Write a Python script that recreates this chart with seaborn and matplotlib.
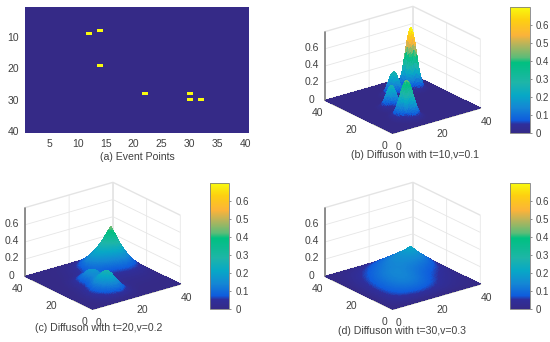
# %% Event points and diffusion surfaces
import numpy as np
import pandas as pd
import matplotlib
matplotlib.use("Agg")
import matplotlib.pyplot as plt
import seaborn as sns
from matplotlib.colors import LinearSegmentedColormap, Normalize
from matplotlib.cm import ScalarMappable

# event cells
event_x = [12, 14, 14, 22, 30, 30, 32]
event_y = [9, 8, 19, 28, 28, 30, 30]

# bumps: centre, then height, width and sharpness per panel
bump_x = [13, 14, 22, 31]
bump_y = [8.5, 19, 28, 29.5]
heights_b = [0.47, 0.27, 0.29, 0.78]
widths_b = [3.4, 2.8, 2.8, 2.9]
powers_b = [2.0, 2.0, 2.0, 2.0]
heights_c = [0.28, 0.16, 0.09, 0.49]
widths_c = [5.5, 5.0, 5.0, 6.0]
powers_c = [1.8, 1.8, 1.8, 1.15]
heights_d = [0.09, 0.06, 0.05, 0.21]
widths_d = [13.0, 12.0, 11.0, 8.0]
powers_d = [1.8, 1.8, 1.8, 1.0]
edge_fade = 3  # surfaces drop to zero at the border, over about this many cells

ticks_xy = [0, 20, 40]
ticks_z = [0, 0.2, 0.4, 0.6]
ticks_cbar = [0, 0.1, 0.2, 0.3, 0.4, 0.5, 0.6]

captions = ["(a) Event Points", "(b) Diffuson with t=10,v=0.1",
            "(c) Diffuson with t=20,v=0.2", "(d) Diffuson with t=30,v=0.3"]

parula = LinearSegmentedColormap.from_list("parula", [
    (0.00, "#352a87"), (0.07, "#2f2f9c"), (0.10, "#0f5cdd"), (0.20, "#1487d4"),
    (0.30, "#07a8c6"), (0.40, "#1eb5a8"), (0.56, "#00c080"), (0.60, "#5cbc78"),
    (0.70, "#b4b45c"), (0.78, "#fbb33a"), (0.90, "#fdd010"), (1.00, "#f9fb0e")])

W, H = 550, 342
TXT = "#404040"

sns.set_theme(style="white")
plt.rcParams["font.family"] = ["Liberation Sans", "DejaVu Sans"]
plt.rcParams["font.size"] = 7.5
plt.rcParams["text.color"] = TXT
plt.rcParams["xtick.color"] = TXT
plt.rcParams["ytick.color"] = TXT


def px_rect(left, top, right, bottom):
    return [left / W, 1 - bottom / H, (right - left) / W, (bottom - top) / H]


fig = plt.figure(figsize=(W / 100, H / 100), dpi=100)

# %% panel (a)
cells = pd.DataFrame(np.zeros((40, 40)), index=range(1, 41), columns=range(1, 41))
for x, y in zip(event_x, event_y):
    cells.loc[y, x] = 1
ax = fig.add_axes(px_rect(24.5, 7, 248.5, 133))
sns.heatmap(cells, ax=ax, cmap=LinearSegmentedColormap.from_list("ev", ["#352a87", "#f9fb0e"]),
            cbar=False, xticklabels=False, yticklabels=False)
ax.set_xticks(np.arange(5, 41, 5) - 0.5)
ax.set_xticklabels(range(5, 41, 5), rotation=0)
ax.set_yticks(np.arange(10, 41, 10) - 0.5)
ax.set_yticklabels(range(10, 41, 10), rotation=0)
ax.tick_params(length=0, pad=4, labelsize=7.5)

# %% panels (b), (c), (d)
gx, gy = np.meshgrid(np.linspace(0, 40, 121), np.linspace(0, 40, 121))


def surface(heights, widths, powers):
    z = np.zeros_like(gx)
    for cx, cy, h, w, p in zip(bump_x, bump_y, heights, widths, powers):
        r = np.hypot(gx - cx, gy - cy)
        z += h * np.exp(-(r / w) ** p)
    for d in (gx, 40 - gx, gy, 40 - gy):
        z = z * (1 - np.exp(-d / edge_fade))
    return z


norm = Normalize(0, 0.7)
panels = [
    (heights_b, widths_b, powers_b, (265, -12, 536, 156), (510, 7, 529.5, 133)),
    (heights_c, widths_c, powers_c, (-35, 164, 236, 332), (210, 182.7, 229.3, 308.7)),
    (heights_d, widths_d, powers_d, (265, 164, 536, 332), (510, 182.7, 529.5, 308.7)),
]
for heights, widths, powers, rect, cb_rect in panels:
    ax = fig.add_axes(px_rect(*rect), projection="3d", proj_type="ortho")
    ax.view_init(elev=22, azim=-127.5)
    ax.set_box_aspect((1, 1, 0.67), zoom=1.0)
    ax.patch.set_alpha(0)
    z = surface(heights, widths, powers)
    ax.plot_surface(gx, gy, z, facecolors=parula(norm(z)), rstride=1, cstride=1,
                    linewidth=0, antialiased=False, shade=False)
    ax.set_xticks(ticks_xy)
    ax.set_yticks(ticks_xy)
    ax.set_zticks(ticks_z)
    ax.set_zticklabels(["0", "0.2", "0.4", "0.6"], va="center")
    ax.set_xlim(0, 40, view_margin=0)
    ax.set_ylim(0, 40, view_margin=0)
    ax.set_zlim(0, 0.8, view_margin=0)
    ax.tick_params(labelsize=7.5, pad=-2.5, length=0)
    for axis in (ax.xaxis, ax.yaxis, ax.zaxis):
        axis.set_pane_color((1, 1, 1, 1))
        axis.pane.set_edgecolor("#e4e4e4")
        axis.line.set_color("#808080")
        axis._axinfo["grid"]["color"] = "#e6e6e6"
        axis._axinfo["grid"]["linewidth"] = 0.6
        axis._axinfo["tick"]["inward_factor"] = 0
        axis._axinfo["tick"]["outward_factor"] = 0

    cax = fig.add_axes(px_rect(*cb_rect))
    cb = fig.colorbar(ScalarMappable(norm=norm, cmap=parula), cax=cax, ticks=ticks_cbar)
    cb.ax.set_yticklabels(["0", "0.1", "0.2", "0.3", "0.4", "0.5", "0.6"])
    cb.ax.tick_params(length=1.5, width=0.5, labelsize=7, pad=3, color="#606060")
    cb.outline.set_edgecolor("#808080")
    cb.outline.set_linewidth(0.6)

# %% captions
for text, cx, cy in zip(captions, [137, 415, 99, 402], [157, 154.5, 328, 331]):
    fig.text(cx / W, 1 - cy / H, text, ha="center", va="center", fontsize=7.6, color=TXT)

fig.savefig("out.png", dpi=100)
